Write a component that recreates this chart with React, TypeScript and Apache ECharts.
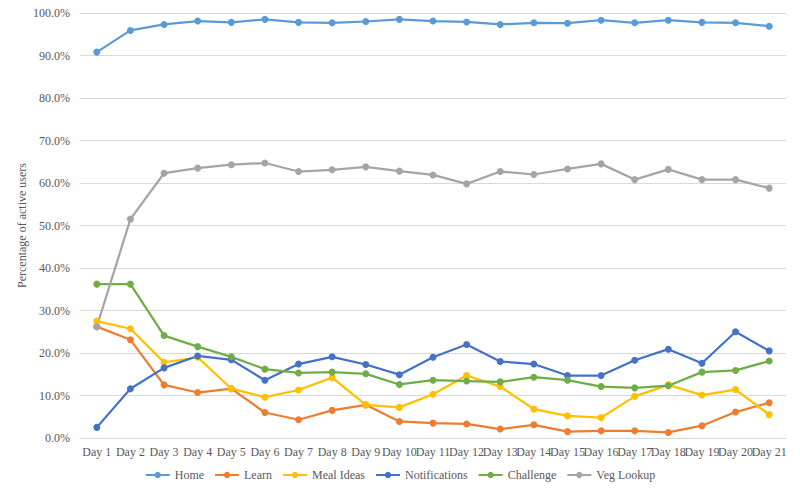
import React, { useEffect, useRef } from "react";
import * as echarts from "echarts";

const days = ["Day 1","Day 2","Day 3","Day 4","Day 5","Day 6","Day 7","Day 8","Day 9","Day 10","Day 11","Day 12","Day 13","Day 14","Day 15","Day 16","Day 17","Day 18","Day 19","Day 20","Day 21"];

const home = [90.8,95.9,97.3,98.1,97.8,98.5,97.8,97.7,98.0,98.5,98.1,97.9,97.3,97.7,97.6,98.3,97.7,98.3,97.8,97.7,96.9];
const learn = [26.2,23.1,12.5,10.7,11.6,6.0,4.3,6.5,7.8,3.9,3.5,3.3,2.1,3.1,1.5,1.7,1.7,1.3,2.9,6.1,8.3];
const mealIdeas = [27.5,25.7,17.8,19.0,11.6,9.6,11.3,14.2,7.8,7.2,10.3,14.7,12.1,6.8,5.2,4.8,9.8,12.5,10.1,11.4,5.5];
const notifications = [2.5,11.6,16.5,19.3,18.4,13.6,17.4,19.1,17.3,14.9,19.0,22.0,18.0,17.4,14.7,14.7,18.3,20.9,17.6,25.0,20.5];
const challenge = [36.2,36.2,24.1,21.5,19.1,16.2,15.3,15.5,15.1,12.6,13.6,13.4,13.2,14.3,13.6,12.1,11.8,12.3,15.5,15.9,18.1];
const vegLookup = [26.2,51.5,62.3,63.5,64.3,64.7,62.7,63.1,63.8,62.8,61.9,59.8,62.7,62.0,63.3,64.5,60.8,63.2,60.8,60.8,58.8];

const seriesDefs = [
  { name: "Home", data: home, color: "#5B9BD5" },
  { name: "Learn", data: learn, color: "#ED7D31" },
  { name: "Meal Ideas", data: mealIdeas, color: "#FFC000" },
  { name: "Notifications", data: notifications, color: "#4472C4" },
  { name: "Challenge", data: challenge, color: "#70AD47" },
  { name: "Veg Lookup", data: vegLookup, color: "#A5A5A5" },
];

const FONT = "'Liberation Serif', serif";
const TEXT = "#595959";

export default function App() {
  const ref = useRef<HTMLDivElement>(null);
  useEffect(() => {
    if (!ref.current) return;
    const chart = echarts.init(ref.current, undefined, { renderer: "svg" });
    chart.setOption({
      animation: false,
      backgroundColor: "#ffffff",
      textStyle: { fontFamily: FONT },
      grid: { left: 80, right: 14, top: 13, bottom: 56, containLabel: false },
      legend: {
        bottom: 8,
        left: "center",
        itemWidth: 24,
        itemHeight: 8,
        itemGap: 10,
        textStyle: { fontFamily: FONT, fontSize: 12, color: TEXT },
        data: seriesDefs.map((s) => s.name),
      },
      xAxis: {
        type: "category",
        data: days,
        boundaryGap: true,
        axisLine: { lineStyle: { color: "#D9D9D9" } },
        axisTick: { show: false },
        axisLabel: { color: TEXT, fontFamily: FONT, fontSize: 12, margin: 8, interval: 0 },
      },
      yAxis: {
        type: "value",
        min: 0,
        max: 100,
        interval: 10,
        name: "Percentage of active users",
        nameLocation: "middle",
        nameGap: 52,
        nameMoveOverlap: false,
        nameTextStyle: { color: TEXT, fontFamily: FONT, fontSize: 12 },
        axisLine: { show: false },
        axisTick: { show: false },
        axisLabel: { color: TEXT, fontFamily: FONT, fontSize: 12, margin: 10, formatter: (v: number) => v.toFixed(1) + "%" },
        splitLine: { lineStyle: { color: "#D9D9D9" } },
      },
      series: seriesDefs.map((s) => ({
        name: s.name,
        type: "line",
        data: s.data,
        symbol: "circle",
        symbolSize: 7,
        color: s.color,
        lineStyle: { width: 2.25, color: s.color },
        itemStyle: { color: s.color },
      })),
    });
    return () => chart.dispose();
  }, []);
  return <div ref={ref} style={{ width: 800, height: 494, position: "absolute", left: 0, top: 0 }} />;
}
